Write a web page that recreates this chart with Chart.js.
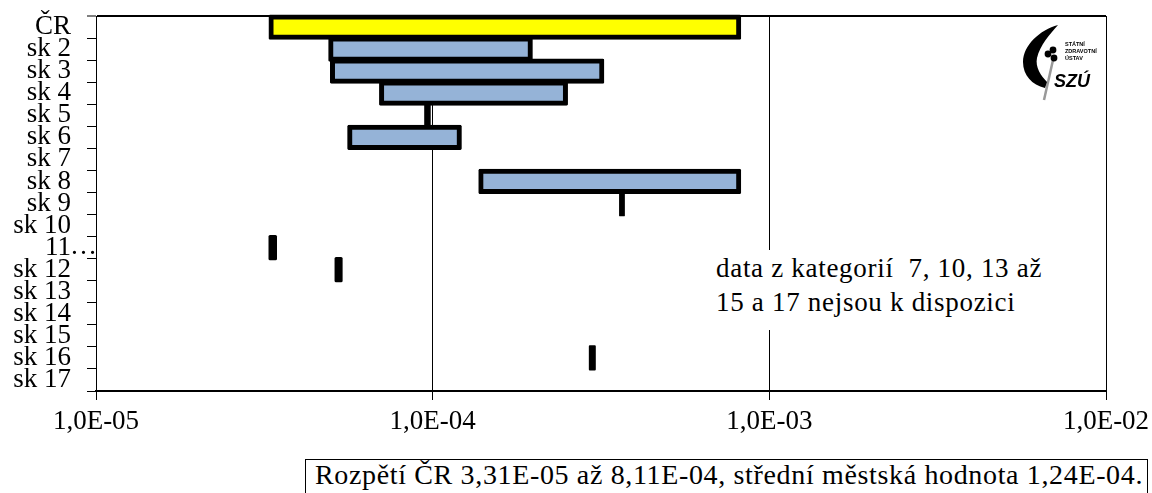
<!DOCTYPE html>
<html lang="cs">
<head>
<meta charset="utf-8">
<title>Rozpětí ČR</title>
<script src="https://cdn.jsdelivr.net/npm/chart.js@4"></script>
<style>
    html, body { margin: 0; padding: 0; background: #fff; overflow: hidden; }
    #wrap { position: relative; width: 1152px; height: 493px; font-family: "Liberation Serif", serif; color: #000; }
    canvas { position: absolute; left: 0; top: 0; }
    .note { position: absolute; left: 700px; top: 250px; width: 360px; height: 80px; background: #fff; }
    .note div { position: absolute; left: 16px; font-size: 27px; letter-spacing: 0.7px; white-space: pre; line-height: 30px; }
    .range { position: absolute; left: 305px; top: 459px; width: 843px; height: 40px; border: 1px solid #000; background: #fff; box-sizing: border-box; }
    .range span { position: absolute; left: 9px; top: 0; font-size: 28px; letter-spacing: 0.65px; line-height: 30px; white-space: pre; }
    svg { position: absolute; left: 1020px; top: 20px; }
</style>
</head>
<body>
<div id="wrap">
    <canvas id="chart" width="1152" height="493"></canvas>
    <div class="note">
        <div style="top:3px">data z kategorií  7, 10, 13 až</div>
        <div style="top:37px">15 a 17 nejsou k dispozici</div>
    </div>
    <svg width="80" height="85" viewBox="0 0 80 85">
        <path d="M33 40 L24 80" stroke="#999" stroke-width="2.5" fill="none"/>
        <path d="M38 5 C20 10 3 25 3 42 C3 55 12 65 25 68 L27 62 C21 56 15 47 17 38 C20 25 30 14 38 5 Z" fill="#000"/>
        <circle cx="28" cy="34" r="3.4"/><circle cx="33" cy="30" r="3.4"/><circle cx="34" cy="38" r="3.4"/>
        <text x="45" y="26" font-family="Liberation Sans" font-size="5.5" font-weight="700">STÁTNÍ</text>
        <text x="45" y="33" font-family="Liberation Sans" font-size="5.5" font-weight="700">ZDRAVOTNÍ</text>
        <text x="45" y="40" font-family="Liberation Sans" font-size="5.5" font-weight="700">ÚSTAV</text>
        <text x="34" y="67" font-family="Liberation Sans" font-size="18" font-weight="700" font-style="italic">SZÚ</text>
    </svg>
    <div class="range"><span>Rozpětí ČR 3,31E-05 až 8,11E-04, střední městská hodnota 1,24E-04.</span></div>
</div>

<script>
// Categories, top to bottom
const categories = ['ČR', 'sk 2', 'sk 3', 'sk 4', 'sk 5', 'sk 6', 'sk 7', 'sk 8', 'sk 9', 'sk 10',
    '11', 'sk 12', 'sk 13', 'sk 14', 'sk 15', 'sk 16', 'sk 17'];

// Lower and upper end of each range, null = no data
const rangeMin = [3.31e-5, 4.98e-5, 5.04e-5, 7.05e-5, 9.60e-5, 5.67e-5, null, 1.39e-4, 3.64e-4, null,
    3.31e-5, 5.20e-5, null, null, null, 2.96e-4, null];
const rangeMax = [8.11e-4, 1.95e-4, 3.18e-4, 2.48e-4, 9.70e-5, 1.20e-4, null, 8.11e-4, 3.66e-4, null,
    3.39e-5, 5.31e-5, null, null, null, 3.00e-4, null];

// Decades shown on the value axis
const tickValues = [1e-5, 1e-4, 1e-3, 1e-2];
const tickLabels = ['1,0E-05', '1,0E-04', '1,0E-03', '1,0E-02'];

const ranges = categories.map((name, i) => rangeMin[i] === null ? null : [rangeMin[i], rangeMax[i]]);

// Bars this short have no visible inside, only the outline
function isThin(i) {
    return rangeMin[i] !== null && rangeMax[i] / rangeMin[i] < 1.05;
}

// The dots that follow the cut-off "11" label
const labelDots = {
    id: 'labelDots',
    afterDraw(chart) {
        const ctx = chart.ctx;
        const y = chart.scales.y.getPixelForValue(10);
        ctx.save();
        ctx.font = '27px "Liberation Serif"';
        ctx.fillStyle = '#000';
        ctx.textAlign = 'right';
        ctx.textBaseline = 'alphabetic';
        ctx.fillText('…', 97, y + 6);
        ctx.restore();
    }
};

new Chart(document.getElementById('chart').getContext('2d'), {
    type: 'bar',
    data: {
        labels: categories,
        datasets: [{
            data: ranges,
            backgroundColor: ctx => ctx.dataIndex === 0 ? '#ffff00' : (isThin(ctx.dataIndex) ? '#000' : '#95b3d7'),
            borderColor: '#000',
            borderWidth: ctx => isThin(ctx.dataIndex) ? 0 : 5,
            borderRadius: 1.5,
            borderSkipped: false,
            inflateAmount: 2.5,
            barPercentage: 0.92,
            categoryPercentage: 1,
            clip: false
        }]
    },
    options: {
        indexAxis: 'y',
        responsive: false,
        animation: false,
        layout: { padding: { top: 16, right: 46 } },
        plugins: { legend: { display: false }, tooltip: { enabled: false } },
        scales: {
            x: {
                type: 'logarithmic',
                min: 1e-5,
                max: 1e-2,
                afterBuildTicks: scale => { scale.ticks = tickValues.map(value => ({ value })); },
                afterFit: scale => {
                    scale.height = 102;
                    scale.paddingLeft = 0;
                    scale.paddingRight = 0;
                },
                border: { color: '#000', width: 2 },
                grid: { color: '#000', lineWidth: 1, tickLength: 9, tickColor: '#000' },
                ticks: {
                    color: '#000',
                    padding: 6,
                    maxRotation: 0,
                    autoSkip: false,
                    font: { family: '"Liberation Serif"', size: 27 },
                    callback: (value, i) => tickLabels[i]
                }
            },
            y: {
                afterFit: scale => {
                    scale.width = 96;
                    scale.paddingTop = 0;
                    scale.paddingBottom = 0;
                },
                border: { color: '#000', width: 1 },
                grid: {
                    offset: true,
                    tickLength: 9,
                    tickColor: '#000',
                    tickWidth: 1,
                    // only the first and last line cross the plot
                    color: ctx => (ctx.index === 0 || ctx.index === categories.length) ? '#000' : 'rgba(0,0,0,0)',
                    lineWidth: ctx => (ctx.index === 0 || ctx.index === categories.length) ? 2 : 1
                },
                ticks: {
                    color: '#000',
                    padding: 16,
                    autoSkip: false,
                    font: { family: '"Liberation Serif"', size: 27 }
                }
            }
        }
    },
    plugins: [labelDots]
});
</script>
</body>
</html>
